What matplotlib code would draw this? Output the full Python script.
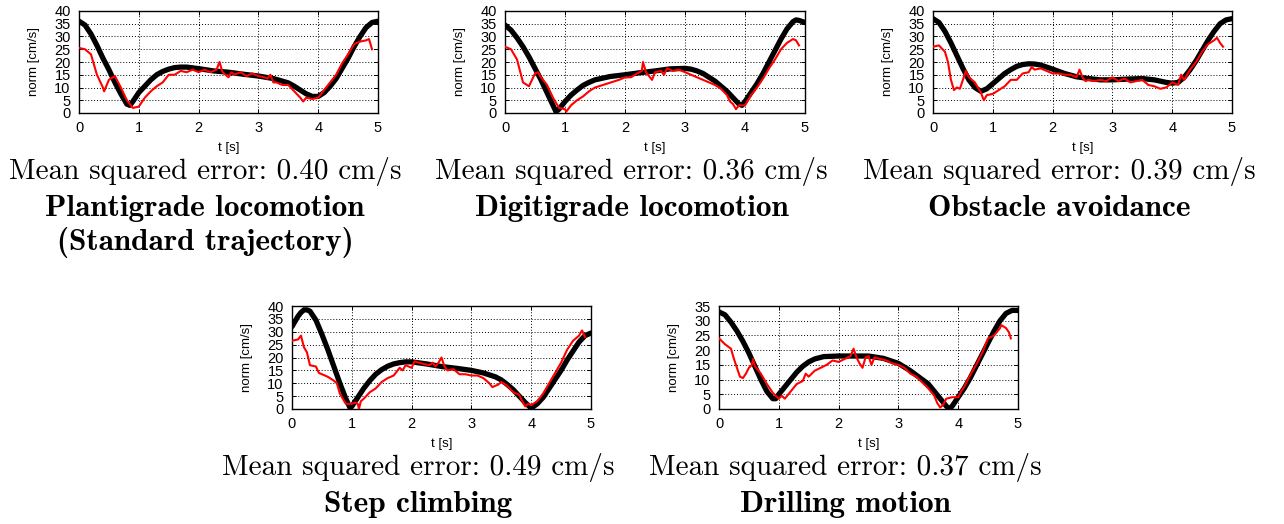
import matplotlib
matplotlib.use("Agg")
import matplotlib.pyplot as plt

# ---- data (t in s, norm in cm/s) ----
# Plantigrade locomotion
t_ref_plant = [0, 0.1, 0.2, 0.3, 0.4, 0.5, 0.6, 0.7, 0.8, 0.85, 0.9, 1.0, 1.1, 1.2, 1.3, 1.4, 1.5,
               1.6, 1.7, 1.8, 1.9, 2.0, 2.25, 2.5, 2.75, 3.0, 3.25, 3.4, 3.5, 3.6, 3.7, 3.8, 3.9,
               4.0, 4.1, 4.2, 4.3, 4.4, 4.5, 4.6, 4.7, 4.8, 4.9, 5.0]
v_ref_plant = [36, 34.5, 31, 26.5, 21.5, 17, 12, 7.5, 3.5, 3, 4.5, 8, 10.5, 13, 15, 16.3, 17.2,
               17.8, 18, 18, 17.7, 17.4, 16.5, 16, 15.2, 14.5, 13.5, 12.5, 11.8, 10.5, 9, 7.5, 6.5,
               6.5, 8, 10.5, 13.5, 17.5, 21.5, 26, 30, 33.5, 35.5, 36]
t_meas_plant = [0, 0.1, 0.2, 0.3, 0.4, 0.42, 0.5, 0.6, 0.7, 0.8, 0.9, 1.0, 1.1, 1.2, 1.3, 1.4, 1.5, 1.6,
                1.7, 1.8, 1.9, 2.0, 2.1, 2.2, 2.3, 2.35, 2.4, 2.5, 2.55, 2.6, 2.7, 2.8, 2.9, 3.0, 3.1,
                3.15, 3.2, 3.25, 3.3, 3.4, 3.5, 3.6, 3.7, 3.75, 3.8, 3.9, 4.0, 4.1, 4.2, 4.3, 4.4, 4.5,
                4.6, 4.7, 4.8, 4.85, 4.9]
v_meas_plant = [25.5, 25, 23, 15, 10, 8.5, 13, 14.5, 10, 5, 2, 2.5, 6, 8.5, 10.5, 12, 15, 15,
                16.5, 16, 17, 16, 17, 16, 17, 20, 16, 14, 16, 15, 16, 14.5, 15.5, 14.5, 14,
                13.5, 15, 12, 12, 11, 11, 8.5, 6, 4.5, 6, 5.5, 6, 9, 12, 15, 19.5, 23,
                27, 28, 28.5, 29, 25]

# Digitigrade locomotion
t_ref_digi = [0, 0.1, 0.2, 0.3, 0.4, 0.5, 0.6, 0.7, 0.8, 0.85, 0.9, 1.0, 1.1, 1.2, 1.3, 1.4, 1.5,
              1.75, 2.0, 2.25, 2.5, 2.75, 3.0, 3.1, 3.2, 3.3, 3.4, 3.5, 3.6, 3.7, 3.8, 3.9, 3.95,
              4.0, 4.1, 4.2, 4.3, 4.4, 4.5, 4.6, 4.7, 4.8, 4.85, 4.9, 5.0]
v_ref_digi = [34.5, 32.5, 29.5, 26, 22, 17.5, 13, 8, 3, 0.5, 1.5, 4.5, 7, 9, 10.8, 12, 13,
              14.3, 15, 15.8, 16.5, 17.3, 17.5, 17.2, 16.5, 15.5, 14, 12.5, 10.5, 8.5, 6, 3.5, 3,
              4.5, 8, 11.5, 15.5, 20, 24.5, 29, 33, 35.8, 36.5, 36.3, 35.5]
t_meas_digi = [0, 0.1, 0.2, 0.3, 0.4, 0.45, 0.5, 0.55, 0.6, 0.7, 0.8, 0.9, 1.0, 1.02, 1.1, 1.2, 1.3,
               1.4, 1.5, 1.7, 1.9, 2.0, 2.1, 2.2, 2.28, 2.3, 2.35, 2.4, 2.45, 2.5, 2.6, 2.65, 2.7,
               2.8, 2.9, 3.0, 3.1, 3.3, 3.5, 3.6, 3.7, 3.75, 3.8, 3.85, 3.9, 4.0, 4.1, 4.2, 4.3,
               4.4, 4.5, 4.6, 4.7, 4.8, 4.85, 4.9]
v_meas_digi = [26, 25, 21, 12, 10.5, 13, 15.5, 16, 14, 11, 6, 2, 1.5, 0.5, 3, 5, 6.5,
               8.5, 10, 11.5, 13, 14, 14, 15.5, 16.5, 20, 16, 14.5, 13, 16, 16.5, 15, 17.5,
               16.5, 17, 16, 15, 13, 11, 9.5, 7, 4.5, 3.5, 1.5, 3, 3, 7, 10, 13.5,
               17.5, 21, 25, 27.5, 29, 28.5, 26.5]

# Obstacle avoidance
t_ref_obst = [0, 0.1, 0.2, 0.3, 0.4, 0.5, 0.6, 0.7, 0.8, 0.9, 1.0, 1.1, 1.2, 1.3, 1.4, 1.5, 1.6,
              1.7, 1.8, 1.9, 2.0, 2.2, 2.4, 2.6, 2.8, 3.0, 3.25, 3.5, 3.7, 3.9, 4.0, 4.1, 4.2,
              4.3, 4.4, 4.5, 4.6, 4.7, 4.8, 4.9, 5.0]
v_ref_obst = [37, 35.5, 32, 27.5, 22.5, 17.5, 13, 10, 8.5, 9.5, 11.5, 13.5, 15.5, 17, 18.3, 19, 19.3,
              19.2, 18.8, 18, 17.2, 15.5, 14.2, 13.5, 13, 13, 13.3, 13.5, 13, 12, 11.7, 12, 14,
              17, 20.5, 24.5, 28.5, 32, 35, 36.5, 37]
t_meas_obst = [0, 0.1, 0.2, 0.25, 0.3, 0.35, 0.4, 0.45, 0.5, 0.55, 0.6, 0.7, 0.8, 0.85, 0.9, 1.0,
               1.1, 1.2, 1.3, 1.4, 1.5, 1.6, 1.65, 1.7, 1.8, 1.9, 2.0, 2.1, 2.2, 2.3, 2.4, 2.45,
               2.5, 2.55, 2.6, 2.7, 2.8, 2.9, 3.0, 3.1, 3.2, 3.3, 3.4, 3.5, 3.6, 3.7, 3.8, 3.9,
               4.0, 4.1, 4.15, 4.2, 4.3, 4.4, 4.5, 4.6, 4.7, 4.75, 4.8, 4.85]
v_meas_obst = [26, 26.5, 24, 20, 13, 9, 10, 9.5, 13, 16.5, 14, 12, 8, 5, 7, 7.5,
               9, 10.5, 13, 13, 15.5, 16, 18, 17, 17.5, 16.5, 15.5, 15.5, 15, 15, 14, 17,
               14, 12.5, 13, 12.5, 13, 12.5, 14, 12.5, 13.5, 12, 12.5, 13, 11, 10.5, 9.5, 10,
               12, 11, 15, 13, 17, 20, 24, 27, 28.5, 29.5, 27.5, 26]

# Step climbing
t_ref_step = [0, 0.05, 0.1, 0.15, 0.2, 0.25, 0.3, 0.4, 0.5, 0.6, 0.7, 0.8, 0.9, 0.97, 1.0, 1.1, 1.2,
              1.3, 1.4, 1.5, 1.6, 1.7, 1.8, 1.9, 2.0, 2.25, 2.5, 2.75, 3.0, 3.2, 3.4, 3.5, 3.6,
              3.7, 3.8, 3.9, 4.0, 4.1, 4.2, 4.3, 4.4, 4.5, 4.6, 4.7, 4.8, 4.9, 5.0]
v_ref_step = [32, 34, 36, 37.5, 38.5, 38.5, 38, 34.5, 29, 23, 16.5, 10, 4, 0.5, 1, 4.5, 8,
              11, 13.5, 15.3, 16.6, 17.5, 18, 18.3, 18.3, 17.5, 16.5, 15.8, 15, 14, 12.5, 11.3, 9.5,
              7.5, 5, 2.5, 0.3, 2, 4.5, 8, 11.5, 15, 19, 22.5, 26, 28.5, 29.5]
t_meas_step = [0, 0.1, 0.15, 0.2, 0.25, 0.3, 0.4, 0.45, 0.5, 0.6, 0.7, 0.75, 0.8, 0.85, 0.9, 1.0,
               1.05, 1.1, 1.12, 1.15, 1.2, 1.3, 1.4, 1.5, 1.6, 1.7, 1.8, 1.85, 1.9, 2.0, 2.05,
               2.2, 2.3, 2.35, 2.4, 2.45, 2.5, 2.55, 2.6, 2.7, 2.8, 2.9, 3.0, 3.1, 3.2, 3.3,
               3.35, 3.45, 3.5, 3.6, 3.7, 3.8, 3.85, 3.9, 3.95, 4.0, 4.1, 4.2, 4.3, 4.4, 4.5,
               4.6, 4.7, 4.8, 4.85, 4.9]
v_meas_step = [26.5, 27, 28.5, 24, 22, 17, 16.5, 14, 13.5, 12.5, 11, 10, 6, 4, 2, 2,
               2.5, 2, 0, 3, 4, 6.5, 8, 10.5, 12, 13, 16, 15, 17, 16, 18.5,
               17.5, 17, 18, 16.5, 18, 20, 16.5, 15, 15.5, 13.5, 13.5, 13, 13, 12, 10,
               8.5, 9.5, 10.5, 9, 6.5, 5.5, 3, 1, 2, 1.5, 3, 6, 10, 14, 18,
               23, 26.5, 28.5, 30.5, 28]

# Drilling motion
t_ref_drill = [0, 0.1, 0.2, 0.3, 0.4, 0.5, 0.6, 0.7, 0.8, 0.9, 0.95, 1.0, 1.1, 1.2, 1.3, 1.4, 1.5,
               1.6, 1.75, 2.0, 2.25, 2.5, 2.75, 3.0, 3.2, 3.4, 3.5, 3.6, 3.7, 3.8, 3.85, 3.9,
               4.0, 4.1, 4.2, 4.3, 4.4, 4.5, 4.6, 4.7, 4.8, 4.9, 5.0]
v_ref_drill = [33, 32, 29.5, 26.5, 23, 19, 14.5, 10, 6, 3.5, 3.5, 5, 7.5, 10, 12.5, 14.5, 16,
               17, 17.8, 18, 18, 18, 17.2, 15.5, 13, 10, 8.5, 6, 3.5, 1, 0, 1,
               4, 7, 10.5, 14.5, 18.5, 22.5, 26.5, 30, 32.5, 33.5, 33.5]
t_meas_drill = [0, 0.1, 0.2, 0.25, 0.3, 0.35, 0.4, 0.45, 0.5, 0.55, 0.57, 0.6, 0.7, 0.8, 0.9, 1.0,
                1.05, 1.1, 1.2, 1.3, 1.4, 1.45, 1.5, 1.6, 1.7, 1.8, 1.9, 2.0, 2.1, 2.2, 2.25,
                2.3, 2.35, 2.4, 2.45, 2.5, 2.55, 2.6, 2.7, 2.8, 2.9, 3.0, 3.1, 3.2, 3.3, 3.4,
                3.5, 3.6, 3.65, 3.7, 3.75, 3.8, 3.9, 4.0, 4.05, 4.1, 4.2, 4.3, 4.4, 4.5, 4.6,
                4.7, 4.72, 4.8, 4.85, 4.88]
v_meas_drill = [24, 22, 20.5, 17, 14, 11, 10.5, 12, 14, 15, 17, 14.5, 12, 8.5, 5.5, 3.5,
                4.5, 3.5, 6, 8.5, 9.5, 12, 11, 13, 14, 15, 16.5, 16, 17, 18, 20.5,
                17.5, 15.5, 14, 17.5, 18, 15, 17.5, 17, 16.5, 15.5, 15, 14, 12, 11, 9,
                7, 4.5, 2, 0.5, 1.5, 3.5, 4, 4, 6, 7.5, 11.5, 15, 19, 24, 25,
                27.5, 28.5, 27.5, 26, 24]

errors = ["0.40", "0.36", "0.39", "0.49", "0.37"]
titles = [["Plantigrade locomotion", "(Standard trajectory)"], ["Digitigrade locomotion"],
          ["Obstacle avoidance"], ["Step climbing"], ["Drilling motion"]]
y_max = [40, 40, 40, 40, 35]

panels = [
    (t_ref_plant, v_ref_plant, t_meas_plant, v_meas_plant),
    (t_ref_digi, v_ref_digi, t_meas_digi, v_meas_digi),
    (t_ref_obst, v_ref_obst, t_meas_obst, v_meas_obst),
    (t_ref_step, v_ref_step, t_meas_step, v_meas_step),
    (t_ref_drill, v_ref_drill, t_meas_drill, v_meas_drill),
]

W, H = 1284, 524
# axes boxes in pixels: left, top, right, bottom
boxes = [(79, 11, 378, 113), (505, 11, 805, 113), (933, 11, 1232, 113),
         (292, 306, 591, 409), (719, 306, 1018, 409)]

fig = plt.figure(figsize=(W / 100, H / 100), dpi=100)
tick_font = "Liberation Sans"

for i, (tr, vr, tm, vm) in enumerate(panels):
    l, t, r, b = boxes[i]
    ax = fig.add_axes([l / W, 1 - b / H, (r - l) / W, (b - t) / H])
    ax.plot(tr, vr, color="black", lw=3.8, solid_capstyle="round",
            solid_joinstyle="round", zorder=3)
    ax.plot(tm, vm, color="#ff0000", lw=1.5, zorder=4)
    ax.set_xlim(0, 5)
    ax.set_ylim(0, y_max[i])
    ax.set_xticks(range(0, 6))
    ax.set_yticks(range(0, y_max[i] + 1, 5))
    ax.grid(True, color="black", linestyle=(0, (1, 2)), lw=0.7)
    ax.tick_params(direction="in", length=3, width=0.7, top=True, right=True,
                   labelsize=10.5, pad=6)
    for lab in ax.get_xticklabels() + ax.get_yticklabels():
        lab.set_fontfamily(tick_font)
    for s in ax.spines.values():
        s.set_linewidth(1.0)
    ax.set_xlabel("t [s]", fontsize=9.5, fontfamily=tick_font, labelpad=5)
    ax.set_ylabel("norm [cm/s]", fontsize=9.5, fontfamily=tick_font, labelpad=10)

    # captions are centred on the panel including its y label
    cx = ((l + r) / 2 - 23.5) / W
    fig.text(cx, 1 - (b + 59) / H, "Mean squared error: " + errors[i] + " cm/s",
             ha="center", va="center", fontsize=21, fontfamily="cmr10")
    for k, line in enumerate(titles[i]):
        fig.text(cx, 1 - (b + 95 + 35 * k) / H, line, ha="center", va="center",
                 fontsize=22.5, fontfamily="cmb10")

fig.savefig("out.png", dpi=100)
